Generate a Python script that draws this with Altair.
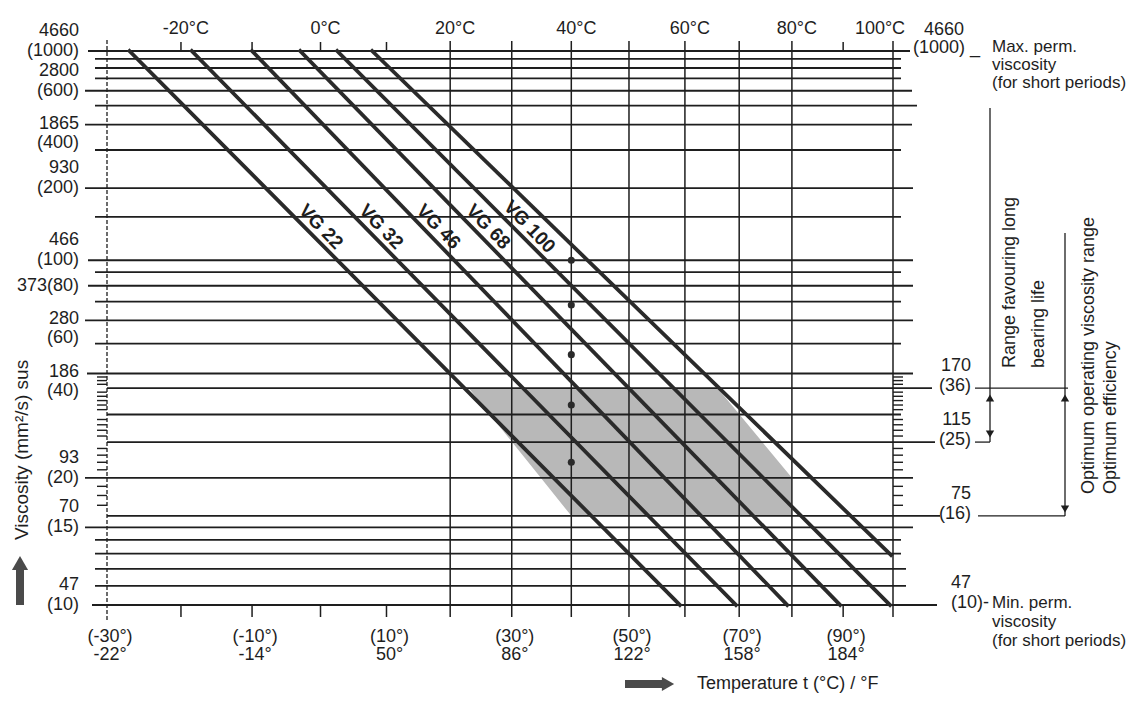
import altair as alt
import numpy as np
import pandas as pd

# ------------------------------------------------------------------ data
GRID_VISC = [1000, 900, 800, 700, 600, 500, 400, 300, 200, 150, 100, 90, 80, 70,
             60, 50, 40, 36, 30, 25, 20, 16, 15, 14, 13, 12, 11, 10]
LEFT_MM = [1000, 600, 400, 200, 100, 60, 40, 20, 15, 10]
LEFT_SUS = ["4660", "2800", "1865", "930", "466", "280", "186", "93", "70", "47"]
LEFT_LOW = [400, 60, 40]
RIGHT_MM = [36, 25, 16, 10]
RIGHT_SUS = ["170", "115", "75", "47"]
MINOR_TICKS = [17, 18, 19, 21, 22, 23, 24, 26, 27, 28, 29, 31, 32, 33, 34, 35, 37, 38, 39]

TOP_TEMPS = [-20, 0, 20, 40, 60, 80, 100]
BOTTOM_TEMPS = [-30, -10, 10, 30, 50, 70, 90]
BOTTOM_F = ["-22°", "-14°", "50°", "86°", "122°", "158°", "184°"]
FULL_VLINES = [20, 30, 40, 50, 60, 70, 80, 100]
TICK_VLINES = [-20, -10, 0, 10, 90]

VG_LABELS = ["VG 22", "VG 32", "VG 46", "VG 68", "VG 100"]
VG_T_START = [-27.0, -18.5, -10.0, -3.0, 2.5, 7.8]
VG_V_START = [1000, 1000, 1000, 1000, 1000, 1000]
VG_T_END = [59.1, 69.4, 79.1, 89.4, 99.4, 99.6]
VG_V_END = [10, 10, 10, 10, 10, 12.9]
VG_V_LABEL = 126

DOT_T = 40
DOT_V = [100, 68, 46, 32, 22]

# shaded operating window (parallelogram clipped at 80 °C)
SHADE_V_TOP = 36
SHADE_V_BOTTOM = 16
SHADE_T_TOP = [23, 66]        # left / right end of the top edge
SHADE_T_BOTTOM_LEFT = 40
SHADE_T_MAX = 80
SHADE_V_CORNER = 20           # where the right edge meets 80 °C

# ------------------------------------------------------------------ style / frame
FONT = "Liberation Sans"
INK = "#1e1e1e"
CW, CH = 1125, 687
PX_M30, PX_100 = 107, 893
PY_10, PY_1000 = 605, 51

LEFT_START_PX = {1000: 88, 600: 85, 400: 85, 200: 85, 100: 88, 80: 88, 60: 85, 40: 87,
                 20: 85, 15: 85, 10: 92, 36: 107, 30: 107, 25: 107, 16: 107}
RIGHT_END_PX = {1000: 910, 600: 912, 500: 917, 400: 912, 200: 913, 100: 913, 80: 913,
                60: 913, 40: 913, 20: 913, 15: 913, 36: 932, 25: 935, 16: 940, 10: 937,
                12: 906, 11: 906}
EXTRA_SEGS = [(36, 975, 1068), (25, 975, 990), (16, 978, 1065)]


def W(v):
    return np.log10(np.log10(np.asarray(v, float) + 0.7))


def XT(t):
    return np.log10(np.asarray(t, float) + 273.15)


XA, XB = float(XT(-30)), float(XT(100))
KX = (PX_100 - PX_M30) / (XB - XA)
YA, YB = float(W(10)), float(W(1000))
KY = (PY_10 - PY_1000) / (YB - YA)


def px2X(p):
    return XA + (p - PX_M30) / KX


def py2Y(p):
    return YA + (PY_10 - p) / KY


def yshift(Y, dy):
    return Y - dy / KY


def xshift(X, dx):
    return X + dx / KX


xs = alt.Scale(domain=[px2X(8), px2X(8 + CW)], nice=False, zero=False)
ys = alt.Scale(domain=[py2Y(8 + CH), py2Y(8)], nice=False, zero=False)


def ex(f="X"):
    return alt.X(f"{f}:Q", scale=xs, axis=None)


def ey(f="Y"):
    return alt.Y(f"{f}:Q", scale=ys, axis=None)


def line_X(i, Y):
    X0, Y0 = XT(VG_T_START[i]), W(VG_V_START[i])
    X1, Y1 = XT(VG_T_END[i]), W(VG_V_END[i])
    return float(X0 + (Y - Y0) * (X1 - X0) / (Y1 - Y0))


layers = []

# ---- shaded window
Yt, Yb, Yc = float(W(SHADE_V_TOP)), float(W(SHADE_V_BOTTOM)), float(W(SHADE_V_CORNER))
Xlt, Xrt = float(XT(SHADE_T_TOP[0])), float(XT(SHADE_T_TOP[1]))
Xlb, X80 = float(XT(SHADE_T_BOTTOM_LEFT)), float(XT(SHADE_T_MAX))
Xlc = Xlt + (Yc - Yt) * (Xlb - Xlt) / (Yb - Yt)
shade = pd.DataFrame([(Yt, Xlt, Xrt), (Yc, Xlc, X80), (Yb, Xlb, X80)], columns=["Y", "Xl", "Xr"])
layers.append(alt.Chart(shade).mark_area(orient="horizontal", color="#b8b8b8")
              .encode(y=ey(), x=ex("Xl"), x2=alt.X2("Xr:Q")))

# ---- horizontal grid
g = pd.DataFrame({"v": GRID_VISC})
g["Y"] = W(g["v"])
g["Xl"] = [px2X(LEFT_START_PX.get(v, 95)) for v in GRID_VISC]
g["Xr"] = [px2X(RIGHT_END_PX.get(v, 901)) for v in GRID_VISC]
layers.append(alt.Chart(g).mark_rule(color=INK, strokeWidth=1.8)
              .encode(y=ey(), x=ex("Xl"), x2=alt.X2("Xr:Q")))
segs = pd.DataFrame([(float(W(v)), px2X(a), px2X(b)) for v, a, b in EXTRA_SEGS],
                    columns=["Y", "Xl", "Xr"])
layers.append(alt.Chart(segs).mark_rule(color=INK, strokeWidth=1.3)
              .encode(y=ey(), x=ex("Xl"), x2=alt.X2("Xr:Q")))

# ---- minor ticks
mt = pd.DataFrame({"Y": W(MINOR_TICKS)})
for a, b in [(97, 107), (893, 903)]:
    layers.append(alt.Chart(mt).mark_rule(color=INK, strokeWidth=1.4)
                  .encode(y=ey(), x=alt.X("a:Q", scale=xs, axis=None), x2=alt.X2("b:Q"))
                  .transform_calculate(a=str(px2X(a)), b=str(px2X(b))))

# ---- vertical lines
vf = pd.DataFrame({"X": XT(FULL_VLINES)})
vf["Y1"], vf["Y2"] = py2Y(41), py2Y(617)
layers.append(alt.Chart(vf).mark_rule(color=INK, strokeWidth=1.5)
              .encode(x=ex(), y=ey("Y1"), y2=alt.Y2("Y2:Q")))
va = pd.DataFrame({"X": [float(XT(-30))], "Y1": [py2Y(40)], "Y2": [py2Y(620)]})
layers.append(alt.Chart(va).mark_rule(color=INK, strokeWidth=1.3, strokeDash=[4, 2])
              .encode(x=ex(), y=ey("Y1"), y2=alt.Y2("Y2:Q")))
tk = pd.DataFrame({"X": np.concatenate([XT(TICK_VLINES), XT(TICK_VLINES)]),
                   "Y1": [py2Y(42)] * len(TICK_VLINES) + [py2Y(605)] * len(TICK_VLINES),
                   "Y2": [py2Y(52)] * len(TICK_VLINES) + [py2Y(617)] * len(TICK_VLINES)})
layers.append(alt.Chart(tk).mark_rule(color=INK, strokeWidth=1.5)
              .encode(x=ex(), y=ey("Y1"), y2=alt.Y2("Y2:Q")))

# ---- VG lines
lr = []
for i in range(len(VG_T_START)):
    lr.append((i, float(XT(VG_T_START[i])), float(W(VG_V_START[i]))))
    lr.append((i, float(XT(VG_T_END[i])), float(W(VG_V_END[i]))))
vg = pd.DataFrame(lr, columns=["id", "X", "Y"])
layers.append(alt.Chart(vg).mark_line(color="#2a2a2a", strokeWidth=3.8, strokeCap="square")
              .encode(x=ex(), y=ey(), detail="id:N"))

# ---- dots at 40 °C
dots = pd.DataFrame({"X": [float(XT(DOT_T))] * len(DOT_V), "Y": W(DOT_V)})
layers.append(alt.Chart(dots).mark_circle(size=50, color="#2a2a2a", opacity=1)
              .encode(x=ex(), y=ey()))

# ---- VG labels
YL = float(W(VG_V_LABEL))
vl = pd.DataFrame({"text": VG_LABELS, "X": [line_X(i, YL) for i in range(len(VG_LABELS))],
                   "Y": [YL] * len(VG_LABELS)})
layers.append(alt.Chart(vl).mark_text(angle=46, dy=-12, fontSize=19, fontWeight="bold",
                                      font=FONT, color=INK, baseline="middle")
              .encode(x=ex(), y=ey(), text="text:N"))


def text_layer(df, align="center", angle=0, size=18, weight="normal"):
    kw = dict(align=align, baseline="middle", fontSize=size, fontWeight=weight,
              font=FONT, color=INK)
    if angle:
        kw["angle"] = angle
    return alt.Chart(df).mark_text(**kw).encode(x=ex(), y=ey(), text="text:N")


def tdf(rows):
    return pd.DataFrame(rows, columns=["text", "X", "Y"])


# ---- left scale labels
rows = []
for v, s in zip(LEFT_MM, LEFT_SUS):
    Yv = float(W(v))
    if v in LEFT_LOW:
        rows += [(s, px2X(79), yshift(Yv, -1)), (f"({v})", px2X(79), yshift(Yv, 18))]
    else:
        rows += [(s, px2X(79), yshift(Yv, -20)), (f"({v})", px2X(79), yshift(Yv, 0))]
rows.append(("373(80)", px2X(79), float(W(80))))
layers.append(text_layer(tdf(rows), align="right"))

# ---- right scale labels
rows = []
for v, s in zip(RIGHT_MM, RIGHT_SUS):
    Yv = float(W(v))
    rows.append((s, px2X(971), yshift(Yv, -22)))
    if v == 10:
        rows.append((f"({v})-", px2X(989), yshift(Yv, -2)))
    else:
        rows.append((f"({v})", px2X(971), yshift(Yv, -2)))
rows.append(("4660", px2X(964), yshift(float(W(1000)), -21)))
layers.append(text_layer(tdf(rows), align="right"))

rows = [("(1000) _", px2X(913), yshift(float(W(1000)), -3)),
        ("Temperature t (°C) / °F", px2X(697), py2Y(684))]
layers.append(text_layer(tdf(rows), align="left"))
rows = [("Max. perm.", px2X(992), py2Y(47)), ("viscosity", px2X(992), py2Y(65)),
        ("(for short periods)", px2X(992), py2Y(83)),
        ("Min. perm.", px2X(992), py2Y(603)), ("viscosity", px2X(992), py2Y(622)),
        ("(for short periods)", px2X(992), py2Y(641))]
layers.append(text_layer(tdf(rows), align="left", size=17))

# ---- temperature labels
tt = pd.DataFrame({"text": [f"{t}°C" for t in TOP_TEMPS],
                   "X": [xshift(float(XT(t)), -13 if t == 100 else 5) for t in TOP_TEMPS],
                   "Y": [py2Y(29)] * len(TOP_TEMPS)})
layers.append(text_layer(tt))
bt = pd.DataFrame({"text": [f"({t}°)" for t in BOTTOM_TEMPS] + BOTTOM_F,
                   "X": [xshift(float(XT(t)), 3) for t in BOTTOM_TEMPS] * 2,
                   "Y": [py2Y(637)] * len(BOTTOM_TEMPS) + [py2Y(655)] * len(BOTTOM_TEMPS)})
layers.append(text_layer(bt))

# ---- rotated annotations
rows = [("Range favouring long", px2X(1010), py2Y(368)),
        ("bearing life", px2X(1039), py2Y(368)),
        ("Optimum operating viscosity range", px2X(1089), py2Y(494)),
        ("Optimum efficiency", px2X(1111), py2Y(494))]
layers.append(text_layer(tdf(rows), align="left", angle=270))
layers.append(text_layer(tdf([("Viscosity (mm²/s) sus", px2X(22), py2Y(540))]),
                         align="left", angle=270, size=19))

# ---- arrow lines at the right
vr = pd.DataFrame({"X": [px2X(990), px2X(1065)], "Y1": [py2Y(108), py2Y(233)],
                   "Y2": [py2Y(442), py2Y(516)]})
layers.append(alt.Chart(vr).mark_rule(color=INK, strokeWidth=1.3)
              .encode(x=ex(), y=ey("Y1"), y2=alt.Y2("Y2:Q")))
up = pd.DataFrame({"X": [px2X(990), px2X(1065)], "Y": [py2Y(398), py2Y(398)]})
dn = pd.DataFrame({"X": [px2X(990), px2X(1065)], "Y": [py2Y(434), py2Y(509)]})
layers.append(alt.Chart(up).mark_point(shape="triangle-up", filled=True, size=70, color=INK, opacity=1)
              .encode(x=ex(), y=ey()))
layers.append(alt.Chart(dn).mark_point(shape="triangle-down", filled=True, size=70, color=INK, opacity=1)
              .encode(x=ex(), y=ey()))

# ---- thick axis arrows
ar = pd.DataFrame({"X": [px2X(20), px2X(625)], "X2": [px2X(20), px2X(662)],
                   "Y": [py2Y(605), py2Y(684)], "Y2": [py2Y(570), py2Y(684)]})
layers.append(alt.Chart(ar).mark_rule(color="#4a4a4a", strokeWidth=8)
              .encode(x=ex(), x2=alt.X2("X2:Q"), y=ey(), y2=alt.Y2("Y2:Q")))
ah = pd.DataFrame({"X": [px2X(20)], "Y": [py2Y(563)]})
layers.append(alt.Chart(ah).mark_point(shape="triangle-up", filled=True, size=260, color="#4a4a4a", opacity=1)
              .encode(x=ex(), y=ey()))
ah2 = pd.DataFrame({"X": [px2X(668)], "Y": [py2Y(684)]})
layers.append(alt.Chart(ah2).mark_point(shape="triangle-right", filled=True, size=200, color="#4a4a4a", opacity=1)
              .encode(x=ex(), y=ey()))

chart = (alt.layer(*layers)
         .properties(width=CW, height=CH, autosize=alt.AutoSizeParams(type="none"), padding=0,
                     background="white")
         .configure_view(stroke=None))

chart.save("out.html", embed_options={"renderer": "svg", "actions": False})
